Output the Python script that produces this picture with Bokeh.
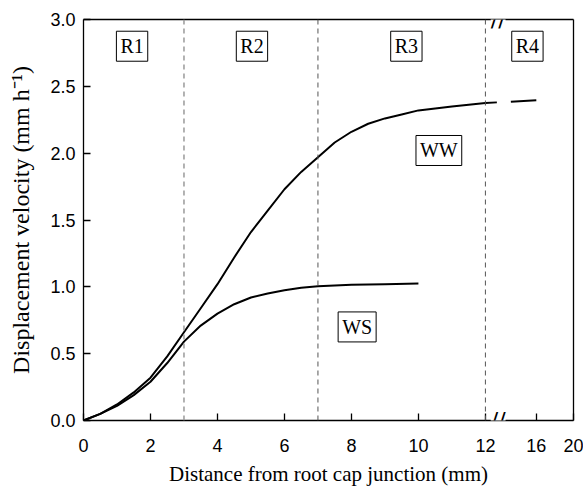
import numpy as np
from bokeh.plotting import figure
from bokeh.models import Range1d, FixedTicker, LinearAxis, Label, Span, PrintfTickFormatter
from bokeh.embed import file_html
from bokeh.resources import INLINE

# ---- data ----
ww_x = [0, 0.5, 1, 1.5, 2, 2.5, 3, 3.5, 4, 4.5, 5, 5.5, 6, 6.5, 7, 7.5, 8, 8.5, 9, 9.5,
        10, 11, 12, 12.9]
ww_y = [0, 0.05, 0.12, 0.21, 0.32, 0.48, 0.66, 0.84, 1.02, 1.22, 1.41, 1.57, 1.73, 1.86,
        1.97, 2.08, 2.16, 2.22, 2.26, 2.29, 2.32, 2.35, 2.375, 2.38]
ww_r4_x = [14, 16]
ww_r4_y = [2.385, 2.395]
ws_x = [0, 0.5, 1, 1.5, 2, 2.5, 3, 3.5, 4, 4.5, 5, 5.5, 6, 6.5, 7, 8, 9, 10]
ws_y = [0, 0.05, 0.11, 0.19, 0.29, 0.43, 0.59, 0.71, 0.80, 0.87, 0.92, 0.95, 0.975, 0.993,
        1.005, 1.015, 1.02, 1.025]

region_bounds = [3, 7, 12]
region_names = ["R1", "R2", "R3", "R4"]
region_label_x = [1.45, 5.03, 9.64, 15.3]
region_label_y = 2.80
series_names = ["WW", "WS"]
series_label_x = [10.61, 8.17]
series_label_y = [2.02, 0.70]

x_tick_values = [0, 2, 4, 6, 8, 10, 12, 16, 20]
x_tick_labels = ["0", "2", "4", "6", "8", "10", "12", "16", "20"]
y_tick_values = [0.0, 0.5, 1.0, 1.5, 2.0, 2.5, 3.0]
break_at = 13.0

# broken x axis: real distance -> plotted position
AXIS_REAL = [0, 12, 16, 20]
AXIS_PLOT = [0, 12, 13.52, 14.63]


def to_plot(x):
    return [round(float(v), 4) for v in np.interp(np.atleast_1d(x), AXIS_REAL, AXIS_PLOT)]


p = figure(width=583, height=488, output_backend="svg", toolbar_location=None,
           x_range=Range1d(0, AXIS_PLOT[-1]), y_range=Range1d(0, 3.0),
           min_border_left=83, min_border_right=10, min_border_top=19, min_border_bottom=68,
           background_fill_color="white", border_fill_color="white")
p.grid.visible = False
p.outline_line_color = None

xt = to_plot(x_tick_values)
p.xaxis.ticker = FixedTicker(ticks=xt)
p.xaxis.major_label_overrides = {t: l for t, l in zip(xt, x_tick_labels)}
p.yaxis.ticker = FixedTicker(ticks=y_tick_values)
p.yaxis.formatter = PrintfTickFormatter(format="%.1f")

for ax in (p.xaxis[0], p.yaxis[0]):
    ax.major_tick_in = 7
    ax.major_tick_out = 0
    ax.minor_tick_line_color = None
    ax.major_tick_line_color = "black"
    ax.major_tick_line_width = 1.3
    ax.axis_line_color = "black"
    ax.axis_line_width = 1.3
    ax.major_label_text_font = "Liberation Sans"
    ax.major_label_text_font_size = "18px"
    ax.major_label_text_color = "black"
    ax.axis_label_text_font = "Liberation Serif"
    ax.axis_label_text_font_style = "normal"
    ax.axis_label_text_color = "black"

p.xaxis.axis_label = "Distance from root cap junction (mm)"
p.yaxis.axis_label = "Displacement velocity (mm h\u207b\u00b9)"
p.xaxis.axis_label_text_font_size = "21px"
p.yaxis.axis_label_text_font_size = "24px"
p.xaxis.major_label_standoff = 18
p.xaxis.axis_label_standoff = 7
p.yaxis.major_label_standoff = 8
p.yaxis.axis_label_standoff = 13

# frame lines on the right and top
for side in ("right", "above"):
    ax = LinearAxis(ticker=FixedTicker(ticks=[]), major_label_text_font_size="0px",
                    major_tick_line_color=None, minor_tick_line_color=None,
                    axis_line_color="black", axis_line_width=1.3)
    p.add_layout(ax, side)

# region boundaries
for i, b in enumerate(region_bounds):
    p.add_layout(Span(location=to_plot(b)[0], dimension="height",
                      line_color="#999999" if i == 0 else "#555555",
                      line_width=1.5 if i == 0 else 1.0, line_dash="5 4"))

# curves
p.line(to_plot(ww_x), ww_y, line_color="black", line_width=2)
p.line(to_plot(ww_r4_x), ww_r4_y, line_color="black", line_width=2)
p.line(to_plot(ws_x), ws_y, line_color="black", line_width=2)

# boxed labels
def boxed(x, y, text):
    p.add_layout(Label(x=to_plot(x)[0], y=y, text=text, text_align="center",
                       text_baseline="middle", text_font="Liberation Serif",
                       text_font_size="20px", text_color="black",
                       background_fill_color="white", border_line_color="black",
                       border_line_width=1, padding=4))

for x, t in zip(region_label_x, region_names):
    boxed(x, region_label_y, t)
for x, y, t in zip(series_label_x, series_label_y, series_names):
    boxed(x, y, t)

# axis break marks
for yb in (0.0, 3.0):
    p.add_layout(Label(x=to_plot(break_at)[0], y=yb, text="//", text_align="center",
                       text_baseline="middle", text_font="DejaVu Sans",
                       text_font_size="22px", text_color="black",
                       background_fill_color="white", padding=0))

open("out.html", "w").write(file_html(p, INLINE))
